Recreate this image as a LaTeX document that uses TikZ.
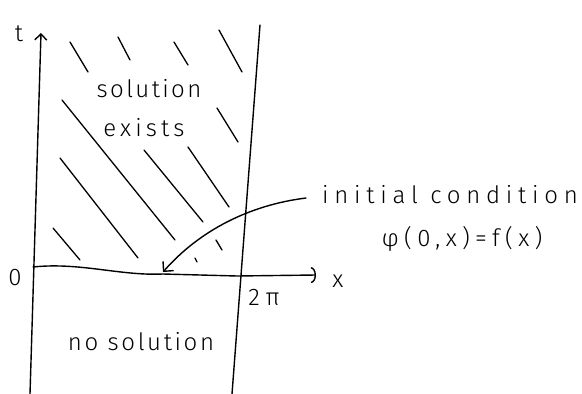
\documentclass[tikz,border=0pt]{standalone}
\usepackage{fontspec}
\setmainfont{Fira Sans}[UprightFont=* Light]
\usepackage{tikz}
\usetikzlibrary{arrows.meta,calc}
\newcommand{\hand}[1]{\addfontfeature{LetterSpace=#1}}

\begin{document}
\begin{tikzpicture}[x=1pt, y=-1pt, line width=1.4pt, line cap=round,
    every node/.style={inner sep=0pt},
    label/.style={anchor=base, font=\fontsize{24}{28}\selectfont},
    hatch/.style={line width=1.3pt}]
  \useasboundingbox (0,0) rectangle (582,394);
  % axes and the line x = 2 pi
  \coordinate (T0) at (30,394);
  \coordinate (T1) at (41,33);
  \coordinate (O) at (33,267);
  \coordinate (X1) at (316,275);
  \coordinate (R0) at (232,394);
  \coordinate (R1) at (260,25);
  \draw[-{Straight Barb[length=6pt,width=12pt]}] (T0) -- (T1);
  \draw[-{Arc Barb[length=5pt,width=16pt]}] (O) .. controls (80,262) and (120,276) .. (163,274)
    -- (237,276) -- (X1);
  \draw (R0) -- (R1);
  % hatching of the upper half strip
  \foreach \a/\b in {{(70,42)}/{(88,72)}, {(118,37)}/{(130,60)}, {(174,42)}/{(188,65)},
                     {(219,30)}/{(242,72)}, {(217,108)}/{(238,142)}, {(62,100)}/{(175,240)},
                     {(144,150)}/{(203,222)}, {(188,147)}/{(229,207)}, {(60,158)}/{(138,258)},
                     {(53,228)}/{(80,260)}, {(216,240)}/{(222,250)}, {(195,258)}/{(197,262)}}{
    \draw[hatch] \a -- \b;
  }
  % labels
  \node[label] (t) at (19,41) {t};
  \node[label] (zero) at (15,285) {0};
  \node[label] (x) at (338,287) {x};
  \node[label] (twopi) at (264,305) {\hand{25}2π};
  \node[label] (sol) at (149,97) {\hand{10}solution};
  \node[label] (ex) at (144,136) {\hand{17}exists};
  \node[label] (nosol) at (141,350) {\hand{11}no solution};
  \node[label] (ic) at (450,203) {\hand{24}initial condition};
  \node[label] (phi) at (462,246) {\hand{22}φ(0,x)=f(x)};
  % pointer to the initial line t = 0
  \coordinate (IC) at (306,198);
  \coordinate (A0) at (163,272);
  \draw[-{Straight Barb[length=7pt,width=14pt]}] (IC) .. controls (250,205) and (200,230) .. (A0);
\end{tikzpicture}
\end{document}
